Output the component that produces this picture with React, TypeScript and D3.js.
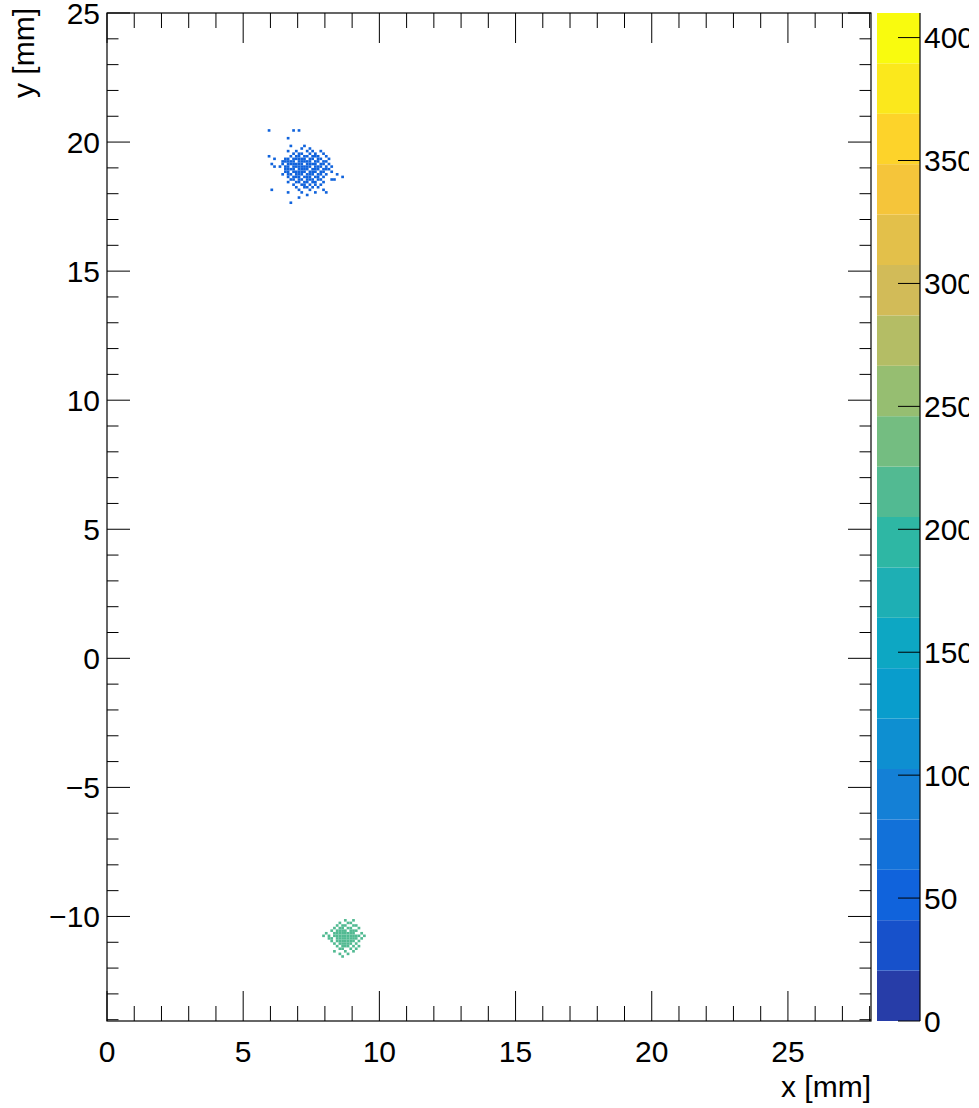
import React from "react";
import * as d3 from "d3";

// ---- data (bin lower edges in mm, bin width 0.1 mm) ----
const binWidth = 0.1;
const blueValue = 52;
const greenValue = 215;
const zMax = 410;
const nContours = 20;

// [y lower edge, x lower edges]
const blueRows: [number, number[]][] = [
  [20.4, [5.9, 6.8, 7.0]],
  [20.1, [6.6]],
  [19.8, [6.7, 7.2]],
  [19.7, [7.1, 7.4]],
  [19.6, [6.6, 6.9, 7.3, 7.5, 7.8]],
  [19.5, [6.8, 7.0, 7.1, 7.4, 7.6, 7.9]],
  [19.4, [5.9, 6.7, 6.9, 7.0, 7.2, 7.3, 7.5, 7.6, 7.7, 8.0]],
  [19.3, [6.1, 6.5, 6.6, 6.8, 6.9, 7.0, 7.1, 7.2, 7.4, 7.5, 7.7, 7.8, 8.1]],
  [19.2, [6.4, 6.5, 6.6, 6.7, 6.8, 7.0, 7.1, 7.2, 7.3, 7.4, 7.6, 7.7, 7.9, 8.0]],
  [19.1, [6.0, 6.4, 6.6, 6.7, 6.8, 6.9, 7.0, 7.1, 7.3, 7.4, 7.5, 7.6, 7.8, 7.9, 8.1]],
  [19.0, [6.1, 6.3, 6.5, 6.6, 6.8, 6.9, 7.0, 7.1, 7.2, 7.3, 7.4, 7.6, 7.7, 7.8, 8.0, 8.2]],
  [18.9, [6.5, 6.6, 6.7, 6.8, 7.0, 7.1, 7.2, 7.3, 7.5, 7.6, 7.7, 7.9, 8.0, 8.1]],
  [18.8, [6.5, 6.6, 6.8, 6.9, 7.0, 7.1, 7.2, 7.4, 7.5, 7.6, 7.8, 7.9, 8.2]],
  [18.7, [6.4, 6.6, 6.7, 6.9, 7.0, 7.1, 7.3, 7.4, 7.5, 7.7, 7.8, 8.0, 8.4]],
  [18.6, [6.6, 6.8, 6.9, 7.0, 7.2, 7.3, 7.4, 7.6, 7.7, 7.9, 8.6]],
  [18.5, [6.7, 6.8, 7.0, 7.1, 7.3, 7.4, 7.5, 7.7, 7.8, 8.2, 8.3]],
  [18.4, [6.6, 6.9, 7.0, 7.2, 7.3, 7.5, 7.6, 7.9]],
  [18.3, [6.8, 7.1, 7.2, 7.4, 7.6, 7.8]],
  [18.2, [6.9, 7.2, 7.3, 7.5, 7.7]],
  [18.1, [6.0, 7.0, 7.4, 7.9]],
  [18.0, [6.6, 7.1, 7.6, 8.0]],
  [17.9, [7.3]],
  [17.8, [7.0]],
  [17.6, [6.7]],
];

const greenRows: [number, number[]][] = [
  [-10.2, [8.7, 9.0]],
  [-10.3, [8.5, 8.8, 8.9]],
  [-10.4, [8.4, 8.6, 8.7, 9.0, 9.1]],
  [-10.5, [8.3, 8.5, 8.6, 8.8, 8.9, 9.2]],
  [-10.6, [8.2, 8.4, 8.5, 8.6, 8.7, 8.9, 9.0, 9.1]],
  [-10.7, [8.0, 8.3, 8.4, 8.5, 8.6, 8.7, 8.8, 8.9, 9.0, 9.3]],
  [-10.8, [7.9, 8.1, 8.3, 8.4, 8.5, 8.6, 8.7, 8.8, 8.9, 9.0, 9.1, 9.2, 9.4]],
  [-10.9, [8.1, 8.2, 8.4, 8.5, 8.6, 8.7, 8.8, 8.9, 9.0, 9.1, 9.3]],
  [-11.0, [8.2, 8.4, 8.5, 8.6, 8.7, 8.8, 8.9, 9.0, 9.2]],
  [-11.1, [8.3, 8.5, 8.6, 8.7, 8.8, 8.9, 9.1]],
  [-11.2, [8.4, 8.6, 8.7, 8.8, 9.0, 9.2]],
  [-11.3, [8.5, 8.6, 8.9, 9.1]],
  [-11.4, [8.3, 8.7, 9.0]],
  [-11.5, [8.5, 8.8]],
  [-11.6, [8.6]],
];

const xTickLabels = [0, 5, 10, 15, 20, 25];
const yTickLabels = [-10, -5, 0, 5, 10, 15, 20, 25];
const zTickLabels = [0, 50, 100, 150, 200, 250, 300, 350, 400];

// ROOT kBird palette
const birdStops = [0, 0.125, 0.25, 0.375, 0.5, 0.625, 0.75, 0.875, 1];
const birdR = [0.2082, 0.0592, 0.078, 0.0232, 0.1802, 0.5301, 0.8186, 0.9956, 0.9764];
const birdG = [0.1664, 0.3599, 0.5041, 0.6419, 0.7178, 0.7492, 0.7328, 0.7862, 0.9832];
const birdB = [0.5293, 0.8684, 0.8385, 0.7914, 0.6425, 0.4662, 0.3499, 0.1968, 0.0539];

const W = 979;
const H = 1108;
const FL = 107, FR = 871, FT = 13, FB = 1021;
const CB0 = 877, CB1 = 920;
const FONT = "'Liberation Sans', Arial, Helvetica, sans-serif";
const FS = 30;

export default function App() {
  const x = d3.scaleLinear().domain([0, 28.05]).range([FL, FR]);
  const y = d3.scaleLinear().domain([-14.05, 25]).range([FB, FT]);
  const z = d3.scaleLinear().domain([0, zMax]).range([FB, FT]);

  const palette = d3
    .scaleLinear<string>()
    .domain(birdStops)
    .range(birdStops.map((_, i) => d3.rgb(birdR[i] * 255, birdG[i] * 255, birdB[i] * 255).toString()))
    .interpolate(d3.interpolateRgb);

  const bandColor = (i: number) => {
    const k = Math.floor(((i + 0.99) * 255) / nContours);
    return palette(Math.min(1, k / 254));
  };
  const valueColor = (v: number) => {
    const b = Math.min(nContours - 1, Math.floor(0.01 + (v * nContours) / zMax));
    return bandColor(b);
  };

  const bins: { x0: number; y0: number; v: number }[] = [];
  blueRows.forEach(([yy, xs]) => xs.forEach((xx) => bins.push({ x0: xx, y0: yy, v: blueValue })));
  greenRows.forEach(([yy, xs]) => xs.forEach((xx) => bins.push({ x0: xx, y0: yy, v: greenValue })));

  const xMinor = d3.range(0, 28.05 + 1e-9, 1).filter((v) => v % 5 !== 0);
  const yMinor = d3.range(-14, 25 + 1e-9, 1).filter((v) => v % 5 !== 0);

  const bands = d3.range(nContours);
  const bandStep = zMax / nContours;

  return (
    <svg
      width={W}
      height={H}
      style={{ position: "absolute", left: 0, top: 0, background: "#fff" }}
      fontFamily={FONT}
    >
      <defs>
        <clipPath id="pageClip">
          <rect x={0} y={0} width={969} height={H} />
        </clipPath>
      </defs>
      <rect x={0} y={0} width={W} height={H} fill="#fff" />
      {/* bins */}
      <g>
        {bins.map((b, i) => (
          <rect
            key={i}
            x={x(b.x0)}
            y={y(b.y0 + binWidth)}
            width={x(b.x0 + binWidth) - x(b.x0)}
            height={y(b.y0) - y(b.y0 + binWidth)}
            fill={valueColor(b.v)}
          />
        ))}
      </g>

      {/* frame */}
      <rect x={FL} y={FT} width={FR - FL} height={FB - FT} fill="none" stroke="#000" strokeWidth={1.2} />

      {/* ticks */}
      <g stroke="#000" strokeWidth={1}>
        {xTickLabels.map((v) => (
          <g key={"xm" + v}>
            <line x1={x(v)} x2={x(v)} y1={FB} y2={FB - 30} />
            <line x1={x(v)} x2={x(v)} y1={FT} y2={FT + 30} />
          </g>
        ))}
        {xMinor.map((v) => (
          <g key={"xn" + v}>
            <line x1={x(v)} x2={x(v)} y1={FB} y2={FB - 15} />
            <line x1={x(v)} x2={x(v)} y1={FT} y2={FT + 15} />
          </g>
        ))}
        {yTickLabels.map((v) => (
          <g key={"ym" + v}>
            <line x1={FL} x2={FL + 23} y1={y(v)} y2={y(v)} />
            <line x1={FR} x2={FR - 23} y1={y(v)} y2={y(v)} />
          </g>
        ))}
        {yMinor.map((v) => (
          <g key={"yn" + v}>
            <line x1={FL} x2={FL + 11.5} y1={y(v)} y2={y(v)} />
            <line x1={FR} x2={FR - 11.5} y1={y(v)} y2={y(v)} />
          </g>
        ))}
      </g>

      {/* tick labels */}
      <g fontSize={FS} fill="#000">
        {xTickLabels.map((v) => (
          <text key={"xl" + v} x={x(v)} y={1062} textAnchor="middle">
            {v}
          </text>
        ))}
        {yTickLabels.map((v) => (
          <text key={"yl" + v} x={100} y={y(v) + 10.7} textAnchor="end">
            {v < 0 ? "\u2212" + Math.abs(v) : String(v)}
          </text>
        ))}
      </g>

      {/* axis titles */}
      <text x={FR} y={1097} textAnchor="end" fontSize={FS} fill="#000">
        x [mm]
      </text>
      <text
        transform={`translate(34, 8) rotate(-90)`}
        textAnchor="end"
        fontSize={FS}
        fill="#000"
      >
        y [mm]
      </text>

      {/* colour bar */}
      <g>
        {bands.map((i) => (
          <rect
            key={"b" + i}
            x={CB0}
            y={z((i + 1) * bandStep)}
            width={CB1 - CB0}
            height={z(i * bandStep) - z((i + 1) * bandStep)}
            fill={bandColor(i)}
          />
        ))}
        <line x1={CB1} x2={CB1} y1={FT} y2={FB} stroke="#000" strokeWidth={1.2} />
        <g clipPath="url(#pageClip)">
          {zTickLabels.map((v) => (
            <g key={"z" + v}>
              <line x1={CB1} x2={CB1 - 22} y1={z(v)} y2={z(v)} stroke="#000" strokeWidth={1} />
              <text x={924} y={z(v) + 10.7} fontSize={FS} fill="#000">
                {v}
              </text>
            </g>
          ))}
        </g>
      </g>
    </svg>
  );
}
